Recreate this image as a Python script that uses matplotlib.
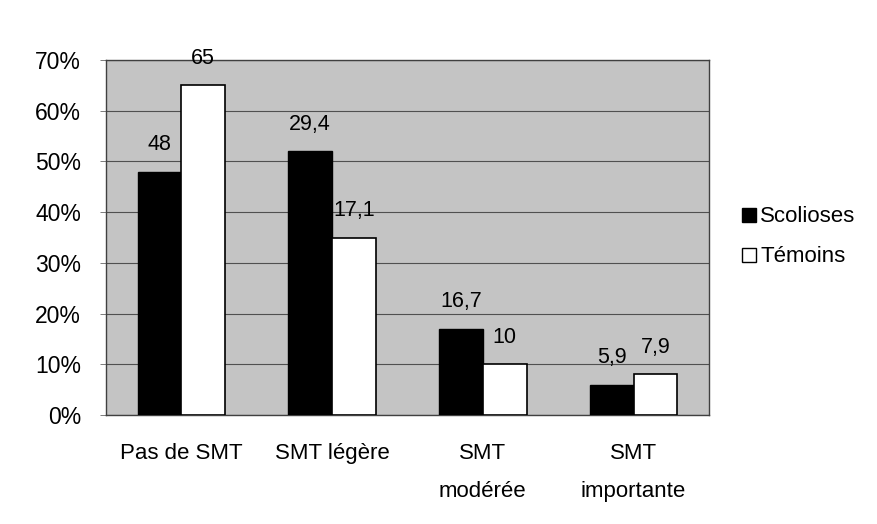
import matplotlib
matplotlib.use("Agg")
import matplotlib.pyplot as plt
import numpy as np
from matplotlib.lines import Line2D

# data
categories = ["Pas de SMT", "SMT légère", "SMT\nmodérée", "SMT\nimportante"]
scolioses = [48, 52, 17, 6]
temoins = [65, 35, 10, 8]
scolioses_labels = ["48", "29,4", "16,7", "5,9"]
temoins_labels = ["65", "17,1", "10", "7,9"]
yticks = [0, 10, 20, 30, 40, 50, 60, 70]

plt.rcParams['font.family'] = ['Liberation Sans', 'DejaVu Sans']

fig = plt.figure(figsize=(8.78, 5.24), dpi=100)
ax = fig.add_axes([0.1207, 0.208, 0.6868, 0.6775])
ax.set_facecolor('#c4c4c4')

x = np.arange(len(categories))
w = 0.29
b1 = ax.bar(x - w / 2, scolioses, w, color='black', edgecolor='black', linewidth=1, zorder=3)
b2 = ax.bar(x + w / 2, temoins, w, color='white', edgecolor='black', linewidth=1.2, zorder=3)

ax.bar_label(b1, labels=scolioses_labels, padding=12, fontsize=15.5)
ax.bar_label(b2, labels=temoins_labels, padding=12, fontsize=15.5)

ax.set_xlim(-0.5, len(categories) - 0.5)
ax.set_ylim(0, 70)
ax.set_yticks(yticks)
ax.set_yticklabels([f"{t}%" for t in yticks], fontsize=16.5)
ax.set_xticks(x)
ax.set_xticklabels(categories, fontsize=16, linespacing=2.05, va='top')
ax.tick_params(axis='x', length=0, pad=20)
ax.tick_params(axis='y', length=4, width=0.6, color='#666666', pad=14)

ax.grid(axis='y', color='#505050', linewidth=0.8, zorder=1)
for s in ax.spines.values():
    s.set_color('#404040')
    s.set_linewidth(1)

handles = [
    Line2D([], [], marker='s', linestyle='none', markersize=10, markerfacecolor='black', markeredgecolor='black'),
    Line2D([], [], marker='s', linestyle='none', markersize=10, markerfacecolor='white', markeredgecolor='black'),
]
fig.legend(handles, ["Scolioses", "Témoins"], loc='center left', bbox_to_anchor=(0.815, 0.548),
           frameon=False, handletextpad=-0.1, labelspacing=0.85, handlelength=1.2,
           prop={'size': 16})

fig.savefig("out.png", dpi=100)
